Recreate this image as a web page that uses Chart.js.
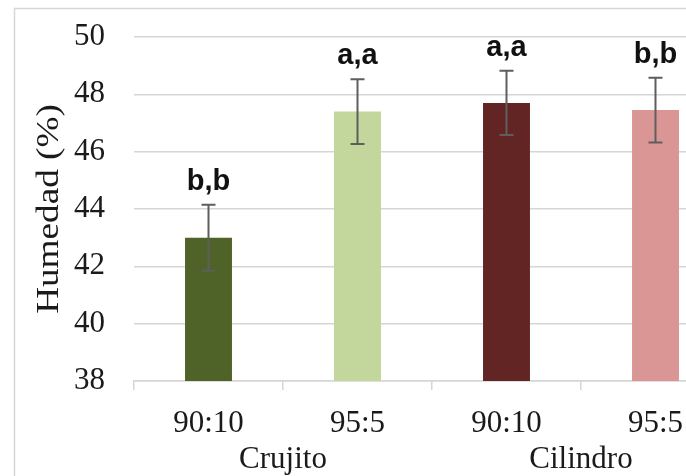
<!DOCTYPE html>
<html>
<head>
<meta charset="utf-8">
<script src="https://cdn.jsdelivr.net/npm/chart.js@4"></script>
<style>
  html, body { margin: 0; padding: 0; overflow: hidden; background: #ffffff; }
  #wrap { width: 750px; height: 476px; position: relative; }
</style>
</head>
<body>
<div id="wrap"><canvas id="c" width="750" height="476"></canvas></div>
<script>
// Moisture content per formulation (ratio) and product shape
const ratios = ['90:10', '95:5', '90:10', '95:5'];
const shapes = ['Crujito', 'Cilindro'];
const humedad = [43.0, 47.4, 47.7, 47.45];
const desviacion = [1.15, 1.13, 1.12, 1.13];
const letras = ['b,b', 'a,a', 'a,a', 'b,b'];
const colores = ['#4f6228', '#c3d69b', '#632523', '#d99694'];
const yMin = 38, yMax = 50, yStep = 2;
const yTitle = 'Humedad (%)';

const serif = '"Liberation Serif", "Times New Roman", serif';
const gridGray = '#d6d6d6';
const textColor = '#1a1a1a';

// Light frame around the figure
const framePlugin = {
  id: 'frame',
  beforeDraw(chart) {
    const ctx = chart.ctx;
    ctx.save();
    ctx.strokeStyle = gridGray;
    ctx.lineWidth = 1.5;
    ctx.beginPath();
    ctx.moveTo(14.5, chart.height);
    ctx.lineTo(14.5, 8.5);
    ctx.lineTo(chart.width, 8.5);
    ctx.stroke();
    ctx.restore();
  }
};

// Standard deviation whiskers and significance letters above each bar
const errorPlugin = {
  id: 'errorBars',
  afterDatasetsDraw(chart) {
    const ctx = chart.ctx;
    const y = chart.scales.y;
    const meta = chart.getDatasetMeta(0);
    ctx.save();
    meta.data.forEach((bar, i) => {
      const v = humedad[i], e = desviacion[i];
      const top = y.getPixelForValue(v + e);
      const bot = y.getPixelForValue(v - e);
      const x = bar.x;
      ctx.strokeStyle = '#5e5e5e';
      ctx.lineWidth = 2;
      ctx.beginPath();
      ctx.moveTo(x, top); ctx.lineTo(x, bot);
      ctx.moveTo(x - 7, top); ctx.lineTo(x + 7, top);
      ctx.moveTo(x - 7, bot); ctx.lineTo(x + 7, bot);
      ctx.stroke();

      ctx.fillStyle = '#111111';
      ctx.font = 'bold 29px "Liberation Sans Narrow", "Liberation Sans", Arial, sans-serif';
      ctx.textAlign = 'center';
      ctx.textBaseline = 'middle';
      ctx.fillText(letras[i], x, top - 23);
    });
    ctx.restore();
  }
};

// Axis title and second-level category labels (product shape)
const labelPlugin = {
  id: 'extraLabels',
  afterDraw(chart) {
    const ctx = chart.ctx;
    const x = chart.scales.x;
    const area = chart.chartArea;
    ctx.save();
    ctx.fillStyle = textColor;
    ctx.font = '31px ' + serif;
    ctx.textAlign = 'center';
    ctx.textBaseline = 'alphabetic';
    shapes.forEach((s, g) => {
      const a = x.getPixelForValue(g * 2);
      const b = x.getPixelForValue(g * 2 + 1);
      ctx.fillText(s, (a + b) / 2, 468);
    });
    // vertical title, slightly elongated along its baseline
    ctx.translate(58, (area.top + area.bottom) / 2);
    ctx.rotate(-Math.PI / 2);
    ctx.scale(1.2, 1);
    ctx.fillText(yTitle, 0, 0);
    ctx.restore();
  }
};

new Chart(document.getElementById('c'), {
  type: 'bar',
  data: {
    labels: ratios,
    datasets: [{
      data: humedad,
      backgroundColor: colores,
      borderWidth: 0,
      categoryPercentage: 1,
      barPercentage: 0.315
    }]
  },
  options: {
    responsive: false,
    animation: false,
    devicePixelRatio: 1,
    layout: { padding: { top: 37, right: 20, bottom: 0, left: 0 } },
    plugins: { legend: { display: false }, tooltip: { enabled: false } },
    scales: {
      y: {
        min: yMin, max: yMax,
        ticks: { stepSize: yStep, color: textColor, font: { family: serif, size: 31 }, padding: 0 },
        grid: { color: gridGray, lineWidth: 1.5, drawTicks: true, tickLength: 29, tickColor: 'rgba(0,0,0,0)' },
        border: { display: false },
        afterFit(scale) { scale.width = 134; }
      },
      x: {
        ticks: { color: textColor, font: { family: serif, size: 31 }, padding: 15, maxRotation: 0 },
        grid: { offset: true, drawOnChartArea: false, color: gridGray, lineWidth: 1.5, tickLength: 9 },
        border: { color: gridGray, width: 1.5 },
        afterFit(scale) { scale.height = 95; }
      }
    }
  },
  plugins: [framePlugin, errorPlugin, labelPlugin]
});
</script>
</body>
</html>
